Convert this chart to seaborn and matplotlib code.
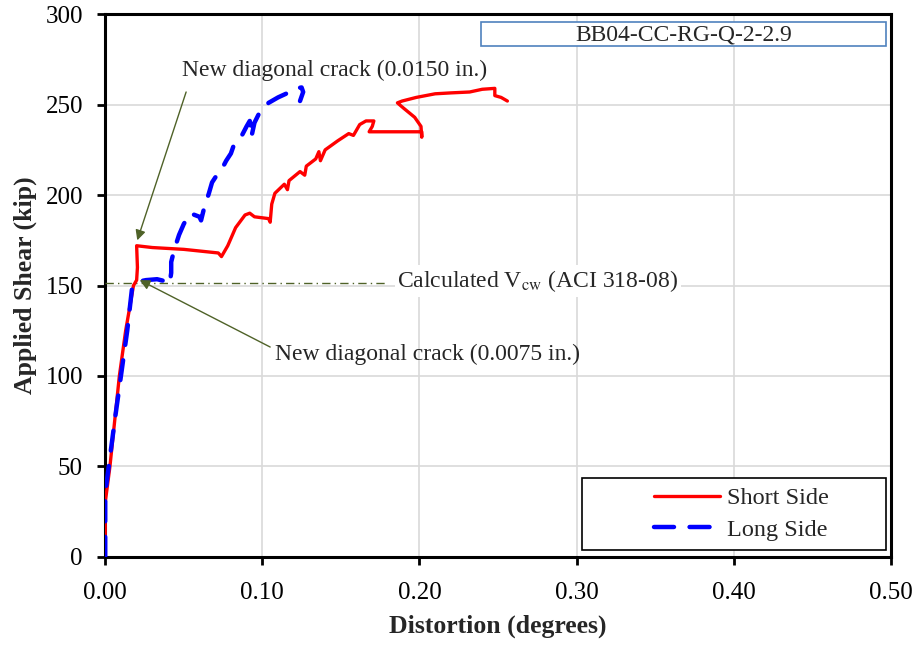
import numpy as np
import matplotlib
matplotlib.use('Agg')
import matplotlib.pyplot as plt
import pandas as pd
import seaborn as sns
from matplotlib.patches import Rectangle

# Short side distortion (deg) vs applied shear (kip)
short_x = [0.000, 0.000, 0.003, 0.009, 0.013, 0.018, 0.020, 0.0205, 0.020, 0.030, 0.050,
           0.072, 0.074, 0.078, 0.083, 0.089, 0.092, 0.095, 0.104, 0.105, 0.106, 0.108,
           0.114, 0.116, 0.117, 0.124, 0.127, 0.128, 0.134, 0.136, 0.137, 0.140, 0.148,
           0.155, 0.158, 0.162, 0.166, 0.171, 0.170, 0.168, 0.185, 0.2015, 0.2015, 0.201,
           0.197, 0.190, 0.186, 0.189, 0.198, 0.210, 0.220, 0.232, 0.240, 0.248, 0.248,
           0.252, 0.256]
short_v = [0, 30, 50, 100, 125, 150, 153, 160, 172, 171, 170,
           168, 166, 172, 182, 189, 190, 188, 187, 185, 195, 201,
           206, 203, 208, 213, 211, 216, 220, 224, 219, 225, 230,
           234, 233, 239, 241, 241, 238, 235, 235, 235, 232, 238,
           243, 248, 251, 252, 254, 256, 256.5, 257, 258.5, 259, 255,
           254, 252]

# Long side
long_x = [0.000, 0.000, 0.003, 0.006, 0.010, 0.014, 0.017, 0.020, 0.026, 0.033, 0.040,
          0.041, 0.042, 0.042, 0.044, 0.047, 0.050, 0.054, 0.057, 0.060, 0.061, 0.063,
          0.066, 0.068, 0.071, 0.074, 0.077, 0.080, 0.082, 0.084, 0.087, 0.090, 0.092,
          0.093, 0.093, 0.095, 0.099, 0.104, 0.110, 0.115, 0.121, 0.125, 0.126, 0.124]
long_v = [0, 35, 55, 75, 100, 125, 148, 152, 153, 153.5, 152,
          151, 157, 163, 170, 178, 184, 190, 189, 188, 186, 193,
          201, 207, 211, 214, 219, 223, 228, 230, 233, 238, 241,
          236, 232, 240, 247, 251, 254, 256, 259, 259.5, 257, 252]

v_cw = 151.5
specimen = 'BB04-CC-RG-Q-2-2.9'

sns.set_style('white')
plt.rcParams['font.family'] = ['Liberation Serif', 'DejaVu Serif']
plt.rcParams['mathtext.fontset'] = 'stix'

fig, ax = plt.subplots(figsize=(9.23, 6.46), dpi=100)
fig.subplots_adjust(left=0.114, right=0.965, bottom=0.138, top=0.978)

sns.lineplot(x=short_x, y=short_v, sort=False, estimator=None, ax=ax,
             color='#FF0000', lw=2.4, label='Short Side', zorder=4)
sns.lineplot(x=long_x, y=long_v, sort=False, estimator=None, ax=ax,
             color='#0000FF', lw=3.2, label='Long Side', zorder=5)
ax.lines[1].set_dashes([4.5, 3.5])
ax.lines[1].set_dash_capstyle('round')

ax.plot([0, 0.18], [v_cw, v_cw], color='#4F6228', lw=1, ls=(0, (6, 3, 1, 3)), zorder=3)
ax.text(0.186, v_cw + 1, 'Calculated V$_{\\mathrm{cw}}$ (ACI 318-08)', fontsize=17,
        va='center', ha='left', zorder=6,
        bbox=dict(facecolor='white', edgecolor='none', pad=2))

arrow = dict(arrowstyle='-|>', color='#4F6228', lw=1, mutation_scale=15, shrinkA=0, shrinkB=0)
ax.annotate('', xy=(0.0204, 175), xytext=(0.0515, 257), arrowprops=arrow, zorder=6)
ax.text(0.049, 269, 'New diagonal crack (0.0150 in.)', fontsize=17, va='center', ha='left')
ax.annotate('', xy=(0.022, 153), xytext=(0.105, 116), arrowprops=arrow, zorder=6)
ax.text(0.108, 112, 'New diagonal crack (0.0075 in.)', fontsize=17, va='center', ha='left')

ax.add_patch(Rectangle((0.478, 0.941), 0.516, 0.044, transform=ax.transAxes,
                       facecolor='white', edgecolor='#4F81BD', lw=1.2, zorder=6))
ax.text(0.736, 0.962, specimen, transform=ax.transAxes, fontsize=17,
        ha='center', va='center', zorder=7)

ax.add_patch(Rectangle((0.607, 0.013), 0.387, 0.132, transform=ax.transAxes,
                       facecolor='white', edgecolor='black', lw=1.2, zorder=6))
leg = ax.legend(loc='center', bbox_to_anchor=(0.81, 0.079), frameon=False,
                fontsize=17.5, handlelength=2.7, labelspacing=0.4, handletextpad=0.3)
leg.set_zorder(8)

ax.set_xlim(0, 0.5)
ax.set_ylim(0, 300)
ax.set_xticks(np.arange(0, 0.51, 0.1))
ax.set_yticks(np.arange(0, 301, 50))
ax.set_xticklabels([f'{t:.2f}' for t in np.arange(0, 0.51, 0.1)])
ax.grid(True, color='#D9D9D9', lw=1.2)
ax.set_axisbelow(True)
for s in ax.spines.values():
    s.set_color('black')
    s.set_linewidth(2.2)
ax.tick_params(direction='out', length=6, width=2, labelsize=18, colors='black',
               bottom=True, left=True)
ax.tick_params(axis='x', pad=12)
ax.tick_params(axis='y', pad=10)
ax.set_xlabel('Distortion (degrees)', fontsize=18.5, fontweight='bold', labelpad=8)
ax.set_ylabel('Applied Shear (kip)', fontsize=18.5, fontweight='bold', labelpad=6)

fig.savefig('out.png', dpi=100)
